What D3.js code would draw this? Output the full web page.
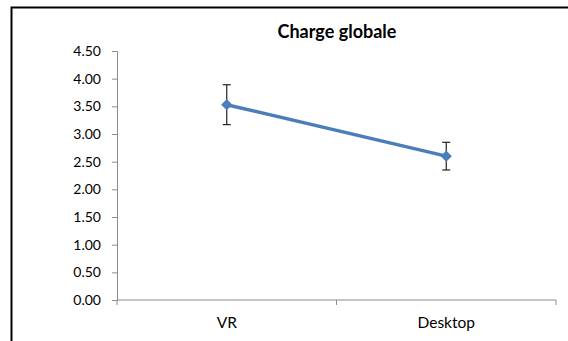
<!DOCTYPE html>
<meta charset="utf-8">
<style>
body { margin: 0; background: #fff; }
svg { display: block; font-family: Lato, "Open Sans", sans-serif; }
</style>
<svg width="568" height="341"></svg>
<script src="https://d3js.org/d3.v7.min.js"></script>
<script>

var categories = ["VR", "Desktop"];
var means = [3.53, 2.60];
var errors = [0.36, 0.25];
var yTicks = [0, 0.5, 1, 1.5, 2, 2.5, 3, 3.5, 4, 4.5];

var svg = d3.select("svg"),
    width = +svg.attr("width"),
    height = +svg.attr("height");

// outer frame (only top and left show in the crop)
svg.append("path")
    .attr("d", "M11.5," + height + "V7.5H" + width)
    .attr("fill", "none")
    .attr("stroke", "#000")
    .attr("stroke-width", 2);

var margin = {left: 117, right: 12, top: 51, bottom: 41};

var x = d3.scaleBand()
    .domain(categories)
    .range([margin.left, width - margin.right]);

var y = d3.scaleLinear()
    .domain([0, 4.5])
    .range([height - margin.bottom, margin.top]);

svg.append("text")
    .attr("x", 337)
    .attr("y", 38)
    .attr("text-anchor", "middle")
    .attr("font-weight", "bold")
    .attr("font-size", 18)
    .text("Charge globale");

// y axis
var yAxis = svg.append("g")
    .attr("transform", "translate(" + margin.left + ",0)")
    .call(d3.axisLeft(y).tickValues(yTicks).tickSize(5).tickPadding(11)
      .tickFormat(d3.format(".2f")));
yAxis.selectAll("text").attr("font-size", 14).attr("fill", "#000").attr("font-family", "Lato, sans-serif");
yAxis.selectAll("line, path").attr("stroke", "#8c8c8c");

// x axis with boundary ticks between categories
var xAxis = svg.append("g")
    .attr("transform", "translate(0," + y(0) + ")");
xAxis.append("line")
    .attr("x1", x.range()[0]).attr("x2", x.range()[1])
    .attr("stroke", "#8c8c8c");
xAxis.selectAll(".tk")
  .data(categories.map(function(c) { return x(c); }).concat([x.range()[1]]))
  .enter().append("line")
    .attr("x1", function(d) { return d; })
    .attr("x2", function(d) { return d; })
    .attr("y1", 0).attr("y2", 5)
    .attr("stroke", "#8c8c8c");
xAxis.selectAll(".lbl")
  .data(categories)
  .enter().append("text")
    .attr("x", function(d) { return x(d) + x.bandwidth() / 2; })
    .attr("y", 28)
    .attr("text-anchor", "middle")
    .attr("font-size", 15.5)
    .text(function(d) { return d; });

var pts = categories.map(function(c, i) {
  return {cx: x(c) + x.bandwidth() / 2, v: means[i], e: errors[i]};
});

// error bars
var eb = svg.append("g").attr("stroke", "#222").attr("stroke-width", 1.2);
pts.forEach(function(p) {
  eb.append("line").attr("x1", p.cx).attr("x2", p.cx)
    .attr("y1", y(p.v + p.e)).attr("y2", y(p.v - p.e));
  [p.v + p.e, p.v - p.e].forEach(function(v) {
    eb.append("line").attr("x1", p.cx - 4).attr("x2", p.cx + 4)
      .attr("y1", y(v)).attr("y2", y(v));
  });
});

svg.append("path")
    .datum(pts)
    .attr("fill", "none")
    .attr("stroke", "#4a7ebb")
    .attr("stroke-width", 3.5)
    .attr("d", d3.line().x(function(d) { return d.cx; }).y(function(d) { return y(d.v); }));

svg.selectAll(".mk")
  .data(pts)
  .enter().append("path")
    .attr("transform", function(d) { return "translate(" + d.cx + "," + y(d.v) + ")"; })
    .attr("d", d3.symbol().type(d3.symbolDiamond2).size(80))
    .attr("fill", "#4a7ebb");

</script>
